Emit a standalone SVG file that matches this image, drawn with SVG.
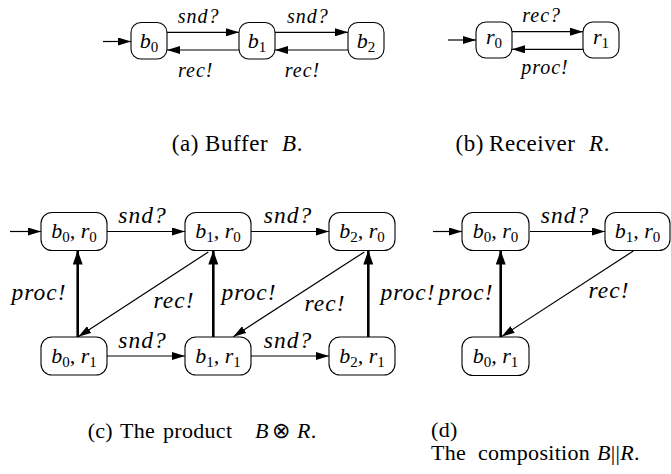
<svg xmlns="http://www.w3.org/2000/svg" width="671" height="474" viewBox="0 0 671 474">
<style>
.box{fill:#fff;stroke:#000;stroke-width:1.1}
.e{stroke:#000;stroke-width:1.2;fill:none;marker-end:url(#ah)}
.eb{stroke:#000;stroke-width:2.6;fill:none;marker-end:url(#ahb)}
text{font-family:'Liberation Serif','Times New Roman',serif;fill:#000}
.lbl{font-style:italic;font-size:20px;letter-spacing:1px;text-anchor:middle}
.lblc{font-style:italic;font-size:23.5px;letter-spacing:1px;text-anchor:middle}
.nl{font-style:italic;font-size:22px;text-anchor:middle}
.sub{font-style:normal;font-size:15px}
.capab{font-size:23px;letter-spacing:0.6px}
.capcd{font-size:22px;letter-spacing:0.3px}
.it{font-style:italic}
.end{text-anchor:end}
</style>
<defs>
<marker id="ah" markerUnits="userSpaceOnUse" markerWidth="13" markerHeight="8" refX="13" refY="4" orient="auto"><path d="M0,0 L13,4 L0,8 z" fill="#000"/></marker>
<marker id="ahb" markerUnits="userSpaceOnUse" markerWidth="14" markerHeight="10" refX="14" refY="5" orient="auto"><path d="M0,0 L14,5 L0,10 z" fill="#000"/></marker>
</defs>

<g id="connectors">
<line class="e" x1="103" y1="41.5" x2="131" y2="41.5"/>
<line class="e" x1="167" y1="32.3" x2="239" y2="32.3"/>
<line class="e" x1="239" y1="50" x2="167" y2="50"/>
<line class="e" x1="275" y1="32.3" x2="348" y2="32.3"/>
<line class="e" x1="348" y1="50" x2="275" y2="50"/>
<line class="e" x1="448" y1="40" x2="476" y2="40"/>
<line class="e" x1="512" y1="31.7" x2="583" y2="31.7"/>
<line class="e" x1="583" y1="49.3" x2="512" y2="49.3"/>
<line class="e" x1="10" y1="231.5" x2="41" y2="231.5"/>
<line class="e" x1="107" y1="231.5" x2="185" y2="231.5"/>
<line class="e" x1="251" y1="231.5" x2="329" y2="231.5"/>
<line class="e" x1="107" y1="356" x2="185" y2="356"/>
<line class="e" x1="251" y1="356" x2="329" y2="356"/>
<line class="eb" x1="77.7" y1="337" x2="77.7" y2="250.5"/>
<line class="eb" x1="213.3" y1="337" x2="213.3" y2="250.5"/>
<line class="eb" x1="368.3" y1="337" x2="368.3" y2="250.5"/>
<line class="e" x1="208.3" y1="252" x2="78.3" y2="336.7"/>
<line class="e" x1="364.3" y1="252" x2="233.3" y2="336.7"/>
<line class="e" x1="433" y1="231.5" x2="462" y2="231.5"/>
<line class="e" x1="530" y1="231.5" x2="605" y2="231.5"/>
<line class="eb" x1="500.7" y1="337" x2="500.7" y2="250.5"/>
<line class="e" x1="633.3" y1="251" x2="501.7" y2="336.5"/>
</g>

<g id="edge-labels">
<text class="lbl" x="198.7" y="22.7">snd?</text>
<text class="lbl" x="307.8" y="22.7">snd?</text>
<text class="lbl" x="195.8" y="76.7">rec!</text>
<text class="lbl" x="302.5" y="76.7">rec!</text>
<text class="lbl" x="541.7" y="21.7">rec?</text>
<text class="lbl" x="545" y="74">proc!</text>
<text class="lblc" x="142.5" y="223">snd?</text>
<text class="lblc" x="288" y="223">snd?</text>
<text class="lblc" x="142.5" y="348.3">snd?</text>
<text class="lblc" x="288" y="348.3">snd?</text>
<text class="lblc" x="39" y="300">proc!</text>
<text class="lblc" x="249" y="300">proc!</text>
<text class="lblc" x="408" y="300">proc!</text>
<text class="lblc" x="174" y="308.3">rec!</text>
<text class="lblc" x="325" y="311">rec!</text>
<text class="lblc" x="565" y="223">snd?</text>
<text class="lblc" x="466" y="300">proc!</text>
<text class="lblc" x="609" y="298.3">rec!</text>
</g>

<g id="a-b0"><rect class="box" x="131" y="22.5" width="36" height="36.5" rx="10"/><text class="nl" x="149" y="47.5">b<tspan class="sub" dy="4">0</tspan></text></g>
<g id="a-b1"><rect class="box" x="239" y="22.5" width="36" height="36.5" rx="10"/><text class="nl" x="257" y="47.5">b<tspan class="sub" dy="4">1</tspan></text></g>
<g id="a-b2"><rect class="box" x="348" y="22.5" width="36" height="36.5" rx="10"/><text class="nl" x="366" y="47.5">b<tspan class="sub" dy="4">2</tspan></text></g>

<g id="b-r0"><rect class="box" x="476" y="22" width="36" height="36" rx="10"/><text class="nl" x="494" y="44">r<tspan class="sub" dy="4">0</tspan></text></g>
<g id="b-r1"><rect class="box" x="583" y="22" width="36" height="36" rx="10"/><text class="nl" x="601" y="44">r<tspan class="sub" dy="4">1</tspan></text></g>

<g id="c-b0r0"><rect class="box" x="41" y="212.5" width="66" height="38" rx="11"/><text class="nl" x="74" y="238">b<tspan class="sub" dy="4">0</tspan><tspan dy="-4">, r</tspan><tspan class="sub" dy="4">0</tspan></text></g>
<g id="c-b1r0"><rect class="box" x="185" y="212.5" width="66" height="38" rx="11"/><text class="nl" x="218" y="238">b<tspan class="sub" dy="4">1</tspan><tspan dy="-4">, r</tspan><tspan class="sub" dy="4">0</tspan></text></g>
<g id="c-b2r0"><rect class="box" x="329" y="212.5" width="66" height="38" rx="11"/><text class="nl" x="362" y="238">b<tspan class="sub" dy="4">2</tspan><tspan dy="-4">, r</tspan><tspan class="sub" dy="4">0</tspan></text></g>
<g id="c-b0r1"><rect class="box" x="41" y="337" width="66" height="38" rx="11"/><text class="nl" x="74" y="362.5">b<tspan class="sub" dy="4">0</tspan><tspan dy="-4">, r</tspan><tspan class="sub" dy="4">1</tspan></text></g>
<g id="c-b1r1"><rect class="box" x="185" y="337" width="66" height="38" rx="11"/><text class="nl" x="218" y="362.5">b<tspan class="sub" dy="4">1</tspan><tspan dy="-4">, r</tspan><tspan class="sub" dy="4">1</tspan></text></g>
<g id="c-b2r1"><rect class="box" x="329" y="337" width="66" height="38" rx="11"/><text class="nl" x="362" y="362.5">b<tspan class="sub" dy="4">2</tspan><tspan dy="-4">, r</tspan><tspan class="sub" dy="4">1</tspan></text></g>

<g id="d-b0r0"><rect class="box" x="462" y="212.5" width="67" height="38" rx="11"/><text class="nl" x="495.5" y="238">b<tspan class="sub" dy="4">0</tspan><tspan dy="-4">, r</tspan><tspan class="sub" dy="4">0</tspan></text></g>
<g id="d-b1r0"><rect class="box" x="605" y="212.5" width="65" height="38" rx="11"/><text class="nl" x="637.5" y="238">b<tspan class="sub" dy="4">1</tspan><tspan dy="-4">, r</tspan><tspan class="sub" dy="4">0</tspan></text></g>
<g id="d-b0r1"><rect class="box" x="462" y="337" width="67" height="38.5" rx="11"/><text class="nl" x="495.5" y="362.5">b<tspan class="sub" dy="4">0</tspan><tspan dy="-4">, r</tspan><tspan class="sub" dy="4">1</tspan></text></g>

<g id="captions">
<text class="capab end" x="199" y="151">(a)</text>
<text class="capab" y="151"><tspan x="205">Buffer</tspan><tspan x="282" class="it">B</tspan><tspan>.</tspan></text>
<text class="capab end" x="484" y="151">(b)</text>
<text class="capab" y="151"><tspan x="489">Receiver</tspan><tspan x="589" class="it">R</tspan><tspan>.</tspan></text>
<text class="capcd end" x="113" y="438">(c)</text>
<text class="capcd" y="438"><tspan x="120">The</tspan><tspan x="163">product</tspan><tspan x="255" class="it">B</tspan><tspan x="272">⊗</tspan><tspan x="297" class="it">R</tspan><tspan>.</tspan></text>
<text class="capcd" x="431" y="437">(d)</text>
<text class="capcd" y="460"><tspan x="431">The</tspan><tspan x="478">composition</tspan><tspan x="597" class="it">B</tspan><tspan>||</tspan><tspan class="it">R</tspan><tspan>.</tspan></text>
</g>
</svg>
